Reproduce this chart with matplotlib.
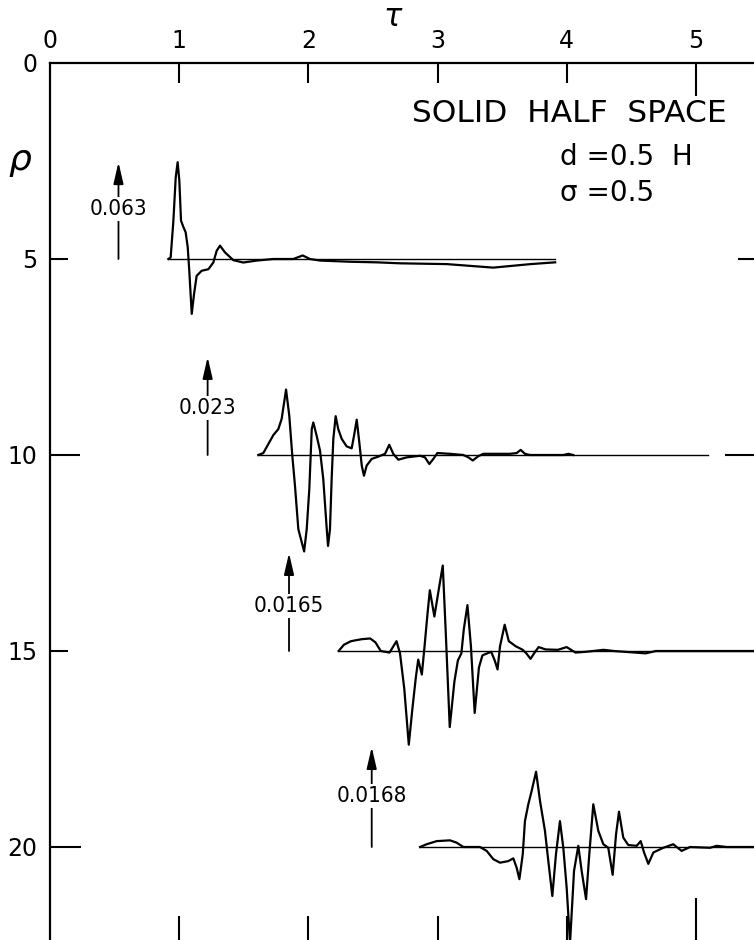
import matplotlib
matplotlib.use("Agg")
import matplotlib.pyplot as plt

# record section: distance rho (downward) vs time tau
rho_levels = [5, 10, 15, 20]
amp_labels = ["0.063", "0.023", "0.0165", "0.0168"]

# trace at rho = 5 (tau, deflection in rho units, positive = up)
tau_5 = [0.916, 0.934, 0.955, 0.973, 0.988, 1.001, 1.014, 1.032, 1.050, 1.066, 1.078, 1.097,
         1.115, 1.135, 1.174, 1.226, 1.264, 1.290, 1.316, 1.354, 1.419, 1.496, 1.600, 1.729,
         1.883, 1.956, 2.012, 2.090, 2.322, 2.528, 2.709, 3.07, 3.43, 3.72, 3.91]
amp_5 = [0, 0.04, 0.98, 2.08, 2.47, 2.0, 0.98, 0.82, 0.68, 0.30, -0.30, -1.40,
         -0.89, -0.43, -0.30, -0.26, -0.09, 0.21, 0.34, 0.17, -0.03, -0.09, -0.04, 0,
         0, 0.09, 0, -0.04, -0.07, -0.085, -0.11, -0.13, -0.22, -0.13, -0.085]

# trace at rho = 10
tau_10 = [1.612, 1.651, 1.690, 1.729, 1.767, 1.793, 1.827, 1.852, 1.875, 1.896, 1.922, 1.967,
          1.987, 2.007, 2.026, 2.038, 2.064, 2.090, 2.115, 2.142, 2.152, 2.167, 2.180, 2.193,
          2.211, 2.231, 2.258, 2.296, 2.335, 2.353, 2.374, 2.394, 2.413, 2.430, 2.451, 2.490,
          2.541, 2.593, 2.626, 2.657, 2.696, 2.761, 2.864, 2.902, 2.936, 2.967, 2.998, 3.096,
          3.199, 3.238, 3.272, 3.315, 3.354, 3.560, 3.612, 3.643, 3.676, 3.715, 3.973, 4.012,
          4.050]
amp_10 = [0, 0.05, 0.28, 0.51, 0.66, 0.92, 1.67, 1.0, 0, -0.78, -1.89, -2.46,
          -1.89, -0.87, 0.66, 0.83, 0.49, 0.11, -0.61, -1.89, -2.32, -1.89, -0.61, 0.41,
          0.99, 0.66, 0.41, 0.22, 0.17, 0.49, 0.90, 0.32, -0.27, -0.53, -0.27, -0.10,
          -0.04, 0.03, 0.26, 0.03, -0.12, -0.06, -0.02, -0.06, -0.23, -0.10, 0.05, 0.03,
          0, -0.06, -0.14, -0.03, 0.03, 0.03, 0.05, 0.13, 0.03, 0, 0, 0.03,
          0]

# trace at rho = 15
tau_15 = [2.234, 2.275, 2.329, 2.410, 2.478, 2.519, 2.560, 2.628, 2.682, 2.709, 2.742, 2.777,
          2.804, 2.831, 2.850, 2.878, 2.899, 2.921, 2.940, 2.975, 3.008, 3.040, 3.062, 3.094,
          3.130, 3.157, 3.184, 3.203, 3.231, 3.258, 3.287, 3.320, 3.347, 3.415, 3.442, 3.464,
          3.483, 3.519, 3.551, 3.605, 3.659, 3.687, 3.719, 3.755, 3.782, 3.836, 3.931, 3.999,
          4.067, 4.149, 4.284, 4.365, 4.610, 4.691, 5.5]
amp_15 = [0, 0.16, 0.25, 0.30, 0.32, 0.22, 0, -0.04, 0.25, -0.06, -0.96, -2.39,
          -1.50, -0.69, -0.22, -0.60, 0.12, 0.92, 1.55, 0.88, 1.55, 2.18, 0.56, -1.94,
          -0.78, -0.24, -0.06, 0.56, 1.17, 0.12, -1.58, -0.42, -0.11, -0.02, -0.24, -0.47,
          0.12, 0.67, 0.25, 0.12, 0.03, -0.06, -0.20, -0.02, 0.10, 0.04, 0.03, 0.10,
          -0.04, -0.02, 0.03, 0, -0.06, 0, 0]

# trace at rho = 20
tau_20 = [2.864, 2.915, 2.993, 3.096, 3.148, 3.199, 3.328, 3.380, 3.431, 3.483, 3.547, 3.586,
          3.612, 3.633, 3.659, 3.676, 3.702, 3.728, 3.762, 3.793, 3.831, 3.857, 3.888, 3.916,
          3.947, 3.973, 3.999, 4.025, 4.056, 4.089, 4.115, 4.149, 4.174, 4.205, 4.244, 4.283,
          4.321, 4.355, 4.381, 4.404, 4.437, 4.476, 4.541, 4.572, 4.598, 4.631, 4.670, 4.747,
          4.824, 4.889, 4.954, 5.108, 5.160, 5.238, 5.5]
amp_20 = [0, 0.07, 0.15, 0.17, 0.11, 0, 0, -0.10, -0.31, -0.40, -0.36, -0.29,
          -0.53, -0.82, -0.19, 0.66, 1.09, 1.43, 1.92, 1.17, 0.41, -0.36, -1.25, -0.19,
          0.66, -0.02, -1.04, -2.45, -0.61, 0.03, -0.61, -1.33, -0.19, 1.09, 0.41, 0.07,
          -0.02, -0.71, 0.32, 0.90, 0.24, 0.05, 0.03, 0.15, -0.14, -0.43, -0.14, -0.02,
          0.07, -0.10, 0, -0.02, 0.03, 0, 0]

traces = [(tau_5, amp_5), (tau_10, amp_10), (tau_15, amp_15), (tau_20, amp_20)]

# zero lines (start, end in tau)
base_start = [0.913, 1.612, 2.234, 2.864]
base_end = [3.91, 5.09, 5.5, 5.5]

# scale arrows: tau position, tip rho, label rho
arrow_tau = [0.53, 1.22, 1.85, 2.49]
arrow_tip = [2.53, 7.5, 12.5, 17.45]
label_rho = [3.72, 8.8, 13.85, 18.7]

tau_ticks = [0, 1, 2, 3, 4, 5]
rho_ticks = [0, 5, 10, 15, 20]

fig = plt.figure(figsize=(7.54, 9.4), dpi=100)
ax = fig.add_axes([50 / 754, 0, 704 / 754, 877 / 940])
ax.set_xlim(0, 704 / 129.2)
ax.set_ylim(877 / 39.2, 0)

for side in ["right", "bottom"]:
    ax.spines[side].set_visible(False)
for side in ["top", "left"]:
    ax.spines[side].set_linewidth(1.6)

ax.set_xticks(tau_ticks)
ax.set_xticklabels([str(t) for t in tau_ticks])
ax.set_yticks(rho_ticks)
ax.set_yticklabels([str(r) for r in rho_ticks])
ax.tick_params(direction="in", width=1.5, top=True, bottom=True, left=True, right=True,
               labeltop=True, labelbottom=False, labelsize=17, pad=7)
ax.tick_params(axis="y", pad=9)

# individual tick lengths (points)
top_len = [0, 14.4, 14.4, 14.4, 14.4, 24]
bot_len = [0, 17.3, 17.3, 17.3, 17.3, 30]
for t, lt, lb in zip(ax.xaxis.get_major_ticks(), top_len, bot_len):
    t.tick2line.set_markersize(lt)
    t.tick1line.set_markersize(lb)
left_len = [0, 13, 21.6, 13, 22.3]
right_len = [0, 11.5, 21, 0, 0]
for t, ll, lr in zip(ax.yaxis.get_major_ticks(), left_len, right_len):
    t.tick1line.set_markersize(ll)
    t.tick2line.set_markersize(lr)

for lvl, (tt, aa), s, e in zip(rho_levels, traces, base_start, base_end):
    ax.plot([s, e], [lvl, lvl], color="black", lw=1.0)
    ax.plot(tt, [lvl - a for a in aa], color="black", lw=1.6)

for lvl, x, tip, ly, lab in zip(rho_levels, arrow_tau, arrow_tip, label_rho, amp_labels):
    ax.annotate("", xy=(x, tip), xytext=(x, lvl),
                arrowprops=dict(arrowstyle="-|>,head_length=1.3,head_width=0.3",
                                lw=1.3, color="black", shrinkA=0, shrinkB=0))
    ax.text(x, ly, lab, ha="center", va="center", fontsize=16, fontstretch="condensed",
            family=["Liberation Sans Narrow", "DejaVu Sans"],
            bbox=dict(facecolor="white", edgecolor="none", pad=1.5))

ax.text(-0.23, 2.47, "ρ", fontsize=26, style="italic", ha="center", va="center", clip_on=False)
ax.text(2.65, -1.17, "τ", fontsize=22, style="italic", ha="center", va="center", clip_on=False)

ax.text(4.02, 1.28, "SOLID  HALF  SPACE", fontsize=22.5, ha="center", va="center")
ax.text(3.95, 2.40, "d =0.5  H", fontsize=20, ha="left", va="center")
ax.text(3.95, 3.32, "σ =0.5", fontsize=20, ha="left", va="center")

fig.savefig("out.png", dpi=100)
